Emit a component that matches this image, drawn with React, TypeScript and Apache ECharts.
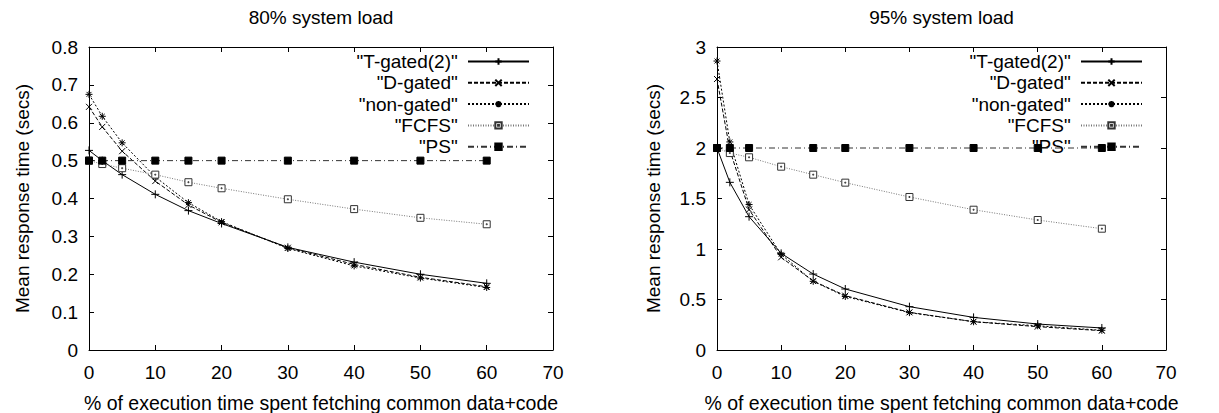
import React, { useEffect, useRef } from "react";
import * as echarts from "echarts";

const FONT = "Liberation Sans, Arial, Helvetica, sans-serif";

const titles = ["80% system load", "95% system load"];
const xTitle = "% of execution time spent fetching common data+code";
const yTitle = "Mean response time (secs)";
const seriesNames = ['"T-gated(2)"', '"D-gated"', '"non-gated"', '"FCFS"', '"PS"'];

// 80% system load
const x80 = [0, 2, 5, 10, 15, 20, 30, 40, 50, 60];
const tgated80 = [0.527, 0.5, 0.463, 0.411, 0.368, 0.334, 0.271, 0.232, 0.2, 0.176];
const dgated80 = [0.642, 0.589, 0.525, 0.446, 0.383, 0.337, 0.27, 0.226, 0.192, 0.167];
const nongated80 = [0.675, 0.617, 0.547, 0.457, 0.389, 0.339, 0.268, 0.222, 0.19, 0.165];
const fcfs80 = [0.5, 0.491, 0.48, 0.463, 0.443, 0.427, 0.398, 0.372, 0.349, 0.332];
const ps80 = [0.5, 0.5, 0.5, 0.5, 0.5, 0.5, 0.5, 0.5, 0.5, 0.5];

// 95% system load
const x95 = [0, 2, 5, 10, 15, 20, 30, 40, 50, 60];
const tgated95 = [2.0, 1.66, 1.32, 0.957, 0.752, 0.604, 0.429, 0.323, 0.257, 0.218];
const dgated95 = [2.683, 1.98, 1.39, 0.918, 0.683, 0.538, 0.373, 0.28, 0.231, 0.191];
const nongated95 = [2.861, 2.06, 1.44, 0.947, 0.68, 0.53, 0.37, 0.28, 0.24, 0.195];
const fcfs95 = [2.0, 1.95, 1.908, 1.815, 1.736, 1.657, 1.515, 1.389, 1.287, 1.201];
const xPs95 = [0, 2, 5, 15, 20, 30, 40, 50, 60];
const ps95 = [2, 2, 2, 2, 2, 2, 2, 2, 2];

const yMax = [0.8, 3];
const yInterval = [0.1, 0.5];

const pairs = (xs: number[], ys: number[]) => xs.map((x, i) => [x, ys[i]]);

const styles = [
  { symbol: "path://M0,5L10,5M5,0L5,10", size: 8, color: "#000", fill: "#000", line: "#000", dash: "solid" as any },
  { symbol: "path://M0,0L10,10M10,0L0,10", size: 6, color: "#000", fill: "#000", line: "#000", dash: [4, 2] },
  { symbol: "path://M0,5L10,5M5,0L5,10M1.5,1.5L8.5,8.5M8.5,1.5L1.5,8.5", size: 7, color: "#000", fill: "#000", line: "#000", dash: [2, 2] },
  { symbol: "path://M0,0L10,0L10,10L0,10ZM4.3,4.3L5.7,4.3L5.7,5.7L4.3,5.7Z", size: 7, color: "#333", fill: "#fff", line: "#777", dash: [1, 1.5] },
  { symbol: "rect", size: 7, color: "#000", fill: "#000", line: "#333", dash: [6, 3, 1, 3] },
];

const grids = [
  { left: 89, top: 47, width: 464, height: 303 },
  { left: 717, top: 47, width: 449, height: 303 },
];

function makeSeries(name: string, idx: number, gi: number, data: number[][]) {
  const s = styles[idx];
  return {
    type: "line",
    name,
    xAxisIndex: gi * 2,
    yAxisIndex: gi * 2,
    data,
    symbol: s.symbol,
    symbolSize: s.size,
    showSymbol: true,
    showAllSymbol: true,
    lineStyle: { color: s.line, width: 1, type: s.dash },
    itemStyle: { color: s.fill, borderColor: s.color, borderWidth: 1 },
    emphasis: { disabled: true },
    z: 2 + idx,
  };
}

export default function App() {
  const ref = useRef<HTMLDivElement>(null);
  useEffect(() => {
    if (!ref.current) return;
    const chart = echarts.init(ref.current, undefined, { renderer: "svg" });
    const axisText = { color: "#000", fontSize: 19, fontFamily: FONT };
    const xAxes: any[] = [];
    const yAxes: any[] = [];
    grids.forEach((g, gi) => {
      xAxes.push({
        type: "value",
        gridIndex: gi,
        min: 0,
        max: 70,
        interval: 10,
        position: "bottom",
        name: xTitle,
        nameLocation: "middle",
        nameGap: 43,
        nameTextStyle: { ...axisText, fontSize: 19.5 },
        axisLine: { show: true, lineStyle: { color: "#000", width: 1 } },
        axisTick: { show: true, inside: true, length: 5, lineStyle: { color: "#000" } },
        axisLabel: { ...axisText, margin: 13 },
        splitLine: { show: false },
      });
      xAxes.push({
        type: "value",
        gridIndex: gi,
        min: 0,
        max: 70,
        interval: 10,
        position: "top",
        axisLine: { show: true, onZero: false, lineStyle: { color: "#000", width: 1 } },
        axisTick: { show: true, inside: true, length: 5, lineStyle: { color: "#000" } },
        axisLabel: { show: false },
        splitLine: { show: false },
      });
      yAxes.push({
        type: "value",
        gridIndex: gi,
        min: 0,
        max: yMax[gi],
        interval: yInterval[gi],
        position: "left",
        name: yTitle,
        nameLocation: "middle",
        nameGap: gi === 0 ? 57 : 54,
        nameRotate: 90,
        nameTextStyle: { ...axisText },
        axisLine: { show: true, onZero: false, lineStyle: { color: "#000", width: 1 } },
        axisTick: { show: true, inside: true, length: 5, lineStyle: { color: "#000" } },
        axisLabel: { ...axisText, margin: 11 },
        splitLine: { show: false },
      });
      yAxes.push({
        type: "value",
        gridIndex: gi,
        min: 0,
        max: yMax[gi],
        interval: yInterval[gi],
        position: "right",
        axisLine: { show: true, onZero: false, lineStyle: { color: "#000", width: 1 } },
        axisTick: { show: true, inside: true, length: 5, lineStyle: { color: "#000" } },
        axisLabel: { show: false },
        splitLine: { show: false },
      });
    });

    const series: any[] = [
      makeSeries(seriesNames[0], 0, 0, pairs(x80, tgated80)),
      makeSeries(seriesNames[1], 1, 0, pairs(x80, dgated80)),
      makeSeries(seriesNames[2], 2, 0, pairs(x80, nongated80)),
      makeSeries(seriesNames[3], 3, 0, pairs(x80, fcfs80)),
      makeSeries(seriesNames[4], 4, 0, pairs(x80, ps80)),
      makeSeries(seriesNames[0], 0, 1, pairs(x95, tgated95)),
      makeSeries(seriesNames[1], 1, 1, pairs(x95, dgated95)),
      makeSeries(seriesNames[2], 2, 1, pairs(x95, nongated95)),
      makeSeries(seriesNames[3], 3, 1, pairs(x95, fcfs95)),
      makeSeries(seriesNames[4], 4, 1, pairs(xPs95, ps95)),
    ];

    const legendBase = {
      orient: "vertical",
      align: "right",
      top: 52,
      padding: 0,
      itemWidth: 61,
      itemHeight: 8,
      itemGap: 2.3,
      selectedMode: false,
      data: seriesNames,
      formatter: (n: string) => n + "\u00a0",
      textStyle: { color: "#000", fontSize: 19, fontFamily: FONT, lineHeight: 18 },
    };

    chart.setOption({
      animation: false,
      backgroundColor: "#fff",
      grid: grids.map((g) => ({ ...g, containLabel: false, outerBoundsMode: "none" })),
      xAxis: xAxes,
      yAxis: yAxes,
      legend: [
        { ...legendBase, right: 1219 - (grids[0].left + grids[0].width - 23) },
        { ...legendBase, right: 1219 - (grids[1].left + grids[1].width - 23) },
      ],
      graphic: grids.map((g, gi) => ({
        type: "text",
        x: g.left + g.width / 2,
        y: 17,
        style: {
          text: titles[gi],
          fill: "#000",
          fontSize: 19,
          fontFamily: FONT,
          textAlign: "center",
          textVerticalAlign: "middle",
        },
      })),
      series,
    });
    return () => chart.dispose();
  }, []);
  return (
    <div
      ref={ref}
      style={{ position: "absolute", left: 0, top: 0, width: 1219, height: 413, background: "#fff" }}
    />
  );
}
